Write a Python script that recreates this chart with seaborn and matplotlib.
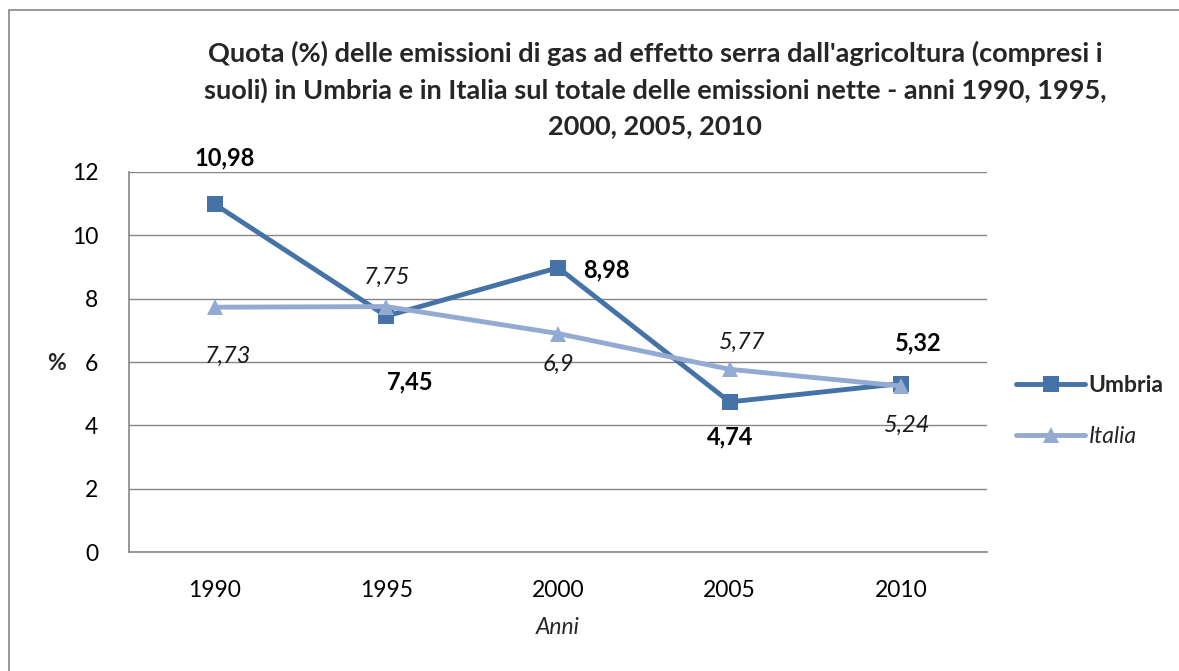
import pandas as pd
import matplotlib.pyplot as plt
import seaborn as sns
from matplotlib.patches import Rectangle

# Data
anni = ['1990', '1995', '2000', '2005', '2010']
umbria = [10.98, 7.45, 8.98, 4.74, 5.32]
italia = [7.73, 7.75, 6.9, 5.77, 5.24]

df = pd.DataFrame({
    'Anni': anni * 2,
    'Quota': umbria + italia,
    'Serie': ['Umbria'] * 5 + ['Italia'] * 5,
})

sns.set_style('white')
plt.rcParams['font.family'] = ['Lato', 'DejaVu Sans']

col_umbria = '#4572A7'
col_italia = '#93AAD3'

fig = plt.figure(figsize=(11.79, 6.71), dpi=100)
ax = fig.add_axes([0.1094, 0.1773, 0.7278, 0.5664])

sns.lineplot(data=df, x='Anni', y='Quota', hue='Serie', style='Serie',
             palette={'Umbria': col_umbria, 'Italia': col_italia},
             markers={'Umbria': 's', 'Italia': '^'}, dashes=False,
             linewidth=3.5, markersize=11, markeredgewidth=0, ax=ax, legend=False)

ax.set_xlim(-0.5, 4.5)
ax.set_ylim(0, 12)
ax.set_yticks(range(0, 13, 2))
ax.yaxis.grid(True, color='#868686', linewidth=1)
ax.set_axisbelow(True)
for s in ['top', 'right']:
    ax.spines[s].set_visible(False)
for s in ['left', 'bottom']:
    ax.spines[s].set_color('#868686')
    ax.spines[s].set_linewidth(1.2)
ax.tick_params(axis='both', length=0, labelsize=16.5, colors='black')
ax.tick_params(axis='x', pad=20)
ax.tick_params(axis='y', pad=22)
ax.set_xlabel('Anni', fontsize=16.5, style='italic', labelpad=12)
ax.set_ylabel('%', fontsize=16.5, fontweight='bold', rotation=0, va='center', ha='center')
ax.yaxis.set_label_coords(-0.085, 0.495)


def fmt(v):
    return f'{v:g}'.replace('.', ',')


# label offsets in pixels (dx, dy)
off_umbria = [(10, 46), (24, -66), (48, -2), (0, -35), (17, 41)]
off_italia = [(13, -49), (1, 29), (0, -31), (13, 27), (6, -39)]

for i, v in enumerate(umbria):
    ax.annotate(fmt(v), (i, v), xytext=off_umbria[i], textcoords='offset pixels',
                ha='center', va='center', fontsize=17, fontweight='bold', color='black')
for i, v in enumerate(italia):
    ax.annotate(fmt(v), (i, v), xytext=off_italia[i], textcoords='offset pixels',
                ha='center', va='center', fontsize=17, style='italic', color='#1a1a1a')

# legend
h_u = plt.Line2D([], [], color=col_umbria, linewidth=3.5, marker='s', markersize=11, markeredgewidth=0)
h_i = plt.Line2D([], [], color=col_italia, linewidth=3.5, marker='^', markersize=11, markeredgewidth=0)
leg = fig.legend([h_u, h_i], ['Umbria', 'Italia'], loc='center left',
                 bbox_to_anchor=(0.862, 0.387), frameon=False, fontsize=16.5,
                 handlelength=3.0, handletextpad=0.15, labelspacing=1.3,
                 borderpad=0, borderaxespad=0)
leg.get_texts()[0].set_fontweight('bold')
leg.get_texts()[1].set_style('italic')

fig.text(0.5556, 0.867,
         "Quota (%) delle emissioni di gas ad effetto serra dall'agricoltura (compresi i\n"
         "suoli) in Umbria e in Italia sul totale delle emissioni nette - anni 1990, 1995,\n"
         "2000, 2005, 2010",
         ha='center', va='center', fontsize=19.5, fontweight='bold', linespacing=1.55)

# outer chart border
fig.patches.append(Rectangle((9 / 1179, -0.05), 1.1, 1.05 - 10 / 671,
                             transform=fig.transFigure, fill=False,
                             edgecolor='#868686', linewidth=1.2))

fig.savefig('out.png', dpi=100)
